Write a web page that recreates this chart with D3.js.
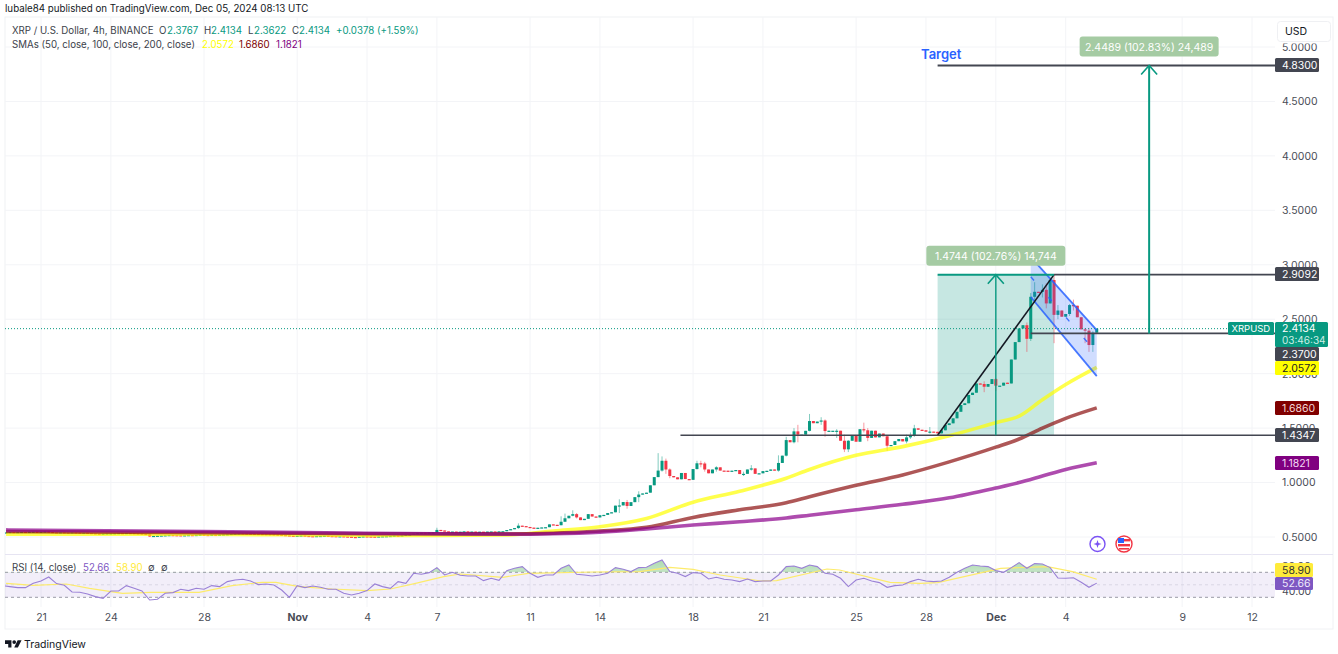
<!DOCTYPE html>
<meta charset="utf-8">
<style>
  body { margin: 0; background: #fff; }
  text { font-family: Inter, "Noto Sans", sans-serif; }
</style>

<!-- Load d3.js -->
<script src="https://d3js.org/d3.v7.min.js"></script>

<div id="my_dataviz"></div>

<script>

// 4h closes, one row per day, first candle is Oct 19 12:00 UTC
var closes = [
  .542,.544,.543,
  .544,.546,.545,.547,.548,.546,
  .547,.550,.545,.541,.540,.541,
  .539,.538,.540,.539,.537,.538,
  .536,.533,.530,.528,.530,.532,
  .532,.533,.535,.534,.536,.535,
  .533,.531,.528,.525,.505,.510,
  .512,.514,.516,.518,.517,.516,
  .515,.516,.518,.517,.519,.521,
  .519,.518,.520,.519,.521,.523,
  .525,.528,.530,.532,.531,.530,
  .529,.528,.527,.526,.525,.524,
  .522,.520,.518,.515,.512,.510,
  .512,.514,.510,.508,.507,.509,
  .510,.511,.509,.508,.507,.507,
  .505,.503,.500,.498,.503,.506,
  .505,.504,.502,.505,.507,.508,
  .510,.512,.511,.514,.520,.522,
  .530,.535,.538,.536,.540,.541,
  .565,.560,.552,.549,.550,.548,
  .549,.552,.548,.550,.547,.549,
  .548,.550,.551,.549,.552,.553,
  .564,.572,.582,.604,.600,.592,
  .586,.582,.585,.588,.590,.616,
  .612,.608,.640,.672,.695,.710,
  .680,.655,.667,.710,.688,.680,
  .700,.703,.720,.727,.788,.790,
  .821,.785,.820,.866,.890,.900,
  .907,.975,1.05,1.11,1.20,1.12,
  1.06,1.048,1.03,1.088,1.032,1.025,
  1.124,1.177,1.175,1.12,1.085,1.12,
  1.14,1.11,1.109,1.105,1.109,1.115,
  1.078,1.08,1.12,1.13,1.08,1.085,
  1.105,1.108,1.12,1.11,1.18,1.247,
  1.39,1.37,1.47,1.44,1.44,1.475,
  1.565,1.545,1.56,1.57,1.473,1.476,
  1.476,1.476,1.384,1.305,1.384,1.437,
  1.375,1.49,1.48,1.41,1.476,1.415,
  1.45,1.425,1.338,1.345,1.38,1.40,
  1.378,1.415,1.43,1.498,1.485,1.48,
  1.467,1.468,1.466,1.452,1.48,1.528,
  1.544,1.59,1.65,1.712,1.728,1.804,
  1.825,1.91,1.905,1.88,1.905,1.95,
  1.89,1.89,1.917,1.91,2.13,2.29,
  2.415,2.445,2.32,2.706,2.752,2.75,
  2.77,2.645,2.86,2.54,2.58,2.523,
  2.548,2.63,2.624,2.518,2.407,2.395,
  2.263,2.376,2.4134
];

// the wicks that stand out: time, high, low
var wicks = [
  ["2024-10-25T16",.53,.50],["2024-11-07T00",.585,.545],["2024-11-10T12",.625,.575],
  ["2024-11-12T08",.69,.62],["2024-11-12T12",.715,.64],["2024-11-12T20",.745,.69],
  ["2024-11-13T00",.72,.67],["2024-11-14T20",.846,.72],["2024-11-15T04",.84,.76],
  ["2024-11-15T16",.92,.82],["2024-11-16T12",1.27,1.05],["2024-11-16T16",1.24,1.10],
  ["2024-11-16T20",1.22,1.08],["2024-11-17T00",1.13,1.04],["2024-11-18T04",1.20,1.12],
  ["2024-11-18T08",1.20,1.14],["2024-11-18T12",1.19,1.10],["2024-11-19T00",1.15,1.10],
  ["2024-11-20T04",1.10,1.06],["2024-11-20T12",1.16,1.11],["2024-11-21T16",1.25,1.10],
  ["2024-11-22T00",1.42,1.24],["2024-11-22T08",1.50,1.36],["2024-11-22T12",1.53,1.37],
  ["2024-11-23T00",1.63,1.47],["2024-11-23T12",1.60,1.53],["2024-11-23T16",1.58,1.42],
  ["2024-11-24T04",1.49,1.41],["2024-11-24T12",1.44,1.28],["2024-11-24T16",1.39,1.28],
  ["2024-11-25T08",1.55,1.46],["2024-11-25T12",1.50,1.38],["2024-11-26T08",1.43,1.29],
  ["2024-11-27T04",1.44,1.36],["2024-11-27T08",1.46,1.40],["2024-11-27T12",1.53,1.42],
  ["2024-11-28T04",1.51,1.45],["2024-11-30T12",1.93,1.83],["2024-12-01T00",1.96,1.84],
  ["2024-12-02T08",2.47,2.20],["2024-12-02T12",2.74,2.30],["2024-12-02T16",2.84,2.65],
  ["2024-12-03T00",2.82,2.70],["2024-12-03T04",2.83,2.60],["2024-12-03T12",2.91,2.28],
  ["2024-12-03T16",2.63,2.50],["2024-12-04T04",2.64,2.53],["2024-12-04T08",2.68,2.58],
  ["2024-12-04T20",2.42,2.28],["2024-12-05T00",2.42,2.20],["2024-12-05T04",2.39,2.20]
];

// moving averages, read at these times
var smaTimes = ["2024-10-19T12","2024-10-28","2024-11-04","2024-11-07","2024-11-10","2024-11-12",
  "2024-11-14","2024-11-16","2024-11-18","2024-11-20","2024-11-22","2024-11-23","2024-11-25",
  "2024-11-27","2024-11-29","2024-12-01","2024-12-02","2024-12-03","2024-12-04","2024-12-05T08"];
var sma50 = [.525,.525,.515,.515,.518,.555,.594,.67,.82,.92,1.04,1.12,1.25,1.33,1.43,1.55,1.61,1.76,1.90,2.0572];
var sma100 = [.55,.54,.53,.53,.53,.535,.555,.59,.68,.75,.815,.87,.975,1.07,1.19,1.325,1.40,1.50,1.59,1.686];
var sma200 = [.565,.55,.535,.53,.525,.53,.545,.575,.61,.64,.675,.70,.75,.80,.86,.95,1.0,1.06,1.12,1.1821];

// RSI every 8h from Oct 19 08:00 UTC
var rsi = [
  48.7,47.1,45.5,45.5,52.4,56.1,62.5,51.9,49.2,38.5,38,35.3,31.1,28.4,40.1,40.1,48.7,44.4,40.1,25.7,
  26.8,36.4,37.5,42.8,40.7,44.4,42.8,48.7,47.1,55.1,57.7,58.8,56.1,50.3,51.3,49.7,41.7,30,48.7,45.5,
  48.1,46,42.8,42.8,36.4,33.7,36.4,40.7,51.3,47.1,44.4,55.1,52.4,68.4,66.8,69.5,77.5,65.7,70,65.2,
  64.1,64.1,56.7,60.4,57.2,72.7,76.4,79.1,68.4,62,65.7,65.7,76.4,81.7,66.8,65.7,64.1,65.7,68.4,77.5,
  74.8,71.1,77.5,78,84.4,89.7,71.1,68.4,63.1,69.5,68.4,59.3,62,58.8,57.7,55.1,59.3,55.1,56.1,56.1,
  65.7,79.1,80.1,76.4,81.7,79.1,68.4,66.8,60.4,47.1,57.7,60.4,56.1,53.5,46,48.7,49.7,55.1,58.8,
  56.1,55.1,56.1,62,70,76.4,81.7,80.1,79.1,72.7,70,77.5,85.5,76.4,83.9,83.4,77.5,60.9,60.4,61.3,54,46,52.66
];
var rsiMaTimes = ["2024-10-19T12","2024-10-20T16","2024-10-22T02","2024-10-23T02","2024-10-24T12","2024-10-25T17",
  "2024-10-27T19","2024-10-29T05","2024-10-30T12","2024-10-31T02","2024-11-01T02","2024-11-02T12","2024-11-04",
  "2024-11-05","2024-11-06T02","2024-11-07T07","2024-11-08","2024-11-09T20","2024-11-10T22","2024-11-13T17",
  "2024-11-15T17","2024-11-17","2024-11-18","2024-11-19T04","2024-11-20T22","2024-11-21T14","2024-11-23T18",
  "2024-11-24T07","2024-11-26T11","2024-11-27T18","2024-11-28T12","2024-12-01T05","2024-12-03T05","2024-12-04T07","2024-12-05T08"];
var rsiMa = [52.4,49.2,51.3,44.4,36.4,38,38,48.7,54,54,47.1,43.3,40.7,43.3,52.4,63,67.3,62,68.4,70.5,
  71,78,74.8,65.7,56.1,56.7,75.3,73.7,54,52.4,53.5,76.4,79,71,58.9];

// axis ticks
var priceTicks = [0.5,1,1.5,2,2.5,3,3.5,4,4.5,5];
var rsiTicks = [80,40];
var timeTicks = ["2024-10-21","2024-10-24","2024-10-28","2024-11-01","2024-11-04","2024-11-07","2024-11-11","2024-11-14",
  "2024-11-18","2024-11-21","2024-11-25","2024-11-28","2024-12-01","2024-12-04","2024-12-09","2024-12-12"];
var timeLabels = ["21","24","28","Nov","4","7","11","14","18","21","25","28","Dec","4","9","12"];

// drawing tool values
var levelPrices = [4.83,2.9092,2.37,1.4347];
var levelStarts = ["2024-11-28T12","2024-12-03T12","2024-12-02T12","2024-11-17T11"];
var boxTimes = ["2024-11-28T12","2024-12-03T12"];
var boxPrices = [1.4347,2.9092];
var channelTimes = ["2024-12-02T12","2024-12-05T08"];
var channelUpper = [3.07,2.40];
var channelMiddle = [2.89,2.19];
var channelLower = [2.704,1.978];

var parseTime = function(s) { return new Date(s.length > 10 ? s + ":00:00Z" : s + "T00:00:00Z"); };

var width = 1338, height = 654;

// append the svg object to the body of the page
var svg = d3.select("#my_dataviz")
  .append("svg")
    .attr("width", width)
    .attr("height", height)
    .style("display", "block");

// scales shared by both panes
var x = d3.scaleUtc()
    .domain([parseTime("2024-10-21"), parseTime("2024-12-12")])
    .range([41, 1252]);
var y = d3.scaleLinear().domain([0.5, 5]).range([537, 47]);
var yRsi = d3.scaleLinear().domain([30, 70]).range([597.3, 572.3]);

var gridColor = "#f3f4f7", teal = "#089981", red = "#f23645", dark = "#434651", blue = "#2962ff";

var defs = svg.append("defs");
defs.append("clipPath").attr("id", "mainClip").append("rect")
    .attr("x", 5).attr("y", 17).attr("width", 1270).attr("height", 537);
defs.append("clipPath").attr("id", "rsiClip").append("rect")
    .attr("x", 5).attr("y", 555).attr("width", 1270).attr("height", 52);
defs.append("clipPath").attr("id", "aboveClip").append("rect")
    .attr("x", 5).attr("y", 555).attr("width", 1270).attr("height", yRsi(70) - 555);
var fade = defs.append("linearGradient").attr("id", "obFade")
    .attr("x1", 0).attr("x2", 0).attr("y1", 0).attr("y2", 1);
fade.append("stop").attr("offset", "0%").attr("stop-color", "#4caf50").attr("stop-opacity", .45);
fade.append("stop").attr("offset", "100%").attr("stop-color", "#4caf50").attr("stop-opacity", .04);

// header
svg.append("text").attr("x", 5).attr("y", 12)
    .style("font-size", "9.75px").style("fill", "#131722")
    .text("lubale84 published on TradingView.com, Dec 05, 2024 08:13 UTC");

// frame of the chart
svg.append("rect").attr("x", 5).attr("y", 17).attr("width", 1328).attr("height", 612)
    .attr("fill", "none").attr("stroke", "#f0f1f4");
svg.append("line").attr("x1", 5).attr("x2", 1333).attr("y1", 554.5).attr("y2", 554.5)
    .attr("stroke", "#e6e4f2").attr("stroke-width", 1.2);

// grid
svg.append("g").selectAll("line").data(timeTicks).enter().append("line")
    .attr("x1", function(d) { return x(parseTime(d)); })
    .attr("x2", function(d) { return x(parseTime(d)); })
    .attr("y1", 17).attr("y2", 607)
    .attr("stroke", gridColor);
svg.append("g").selectAll("line").data(priceTicks).enter().append("line")
    .attr("x1", 5).attr("x2", 1275)
    .attr("y1", function(d) { return y(d); })
    .attr("y2", function(d) { return y(d); })
    .attr("stroke", gridColor);

var main = svg.append("g").attr("clip-path", "url(#mainClip)");

// the measured up-move box
main.append("rect")
    .attr("x", x(parseTime(boxTimes[0])))
    .attr("y", y(boxPrices[1]))
    .attr("width", x(parseTime(boxTimes[1])) - x(parseTime(boxTimes[0])))
    .attr("height", y(boxPrices[0]) - y(boxPrices[1]))
    .attr("fill", teal).attr("fill-opacity", .23);

// candles
var candles = closes.map(function(c, i) {
  var t = d3.utcHour.offset(parseTime("2024-10-19T12"), i * 4);
  var o = i ? closes[i - 1] : c;
  return {t: t, o: o, c: c, h: Math.max(o, c), l: Math.min(o, c)};
});
wicks.forEach(function(w) {
  var time = parseTime(w[0]).getTime();
  var candle = candles.find(function(d) { return d.t.getTime() === time; });
  candle.h = Math.max(candle.h, w[1]);
  candle.l = Math.min(candle.l, w[2]);
});
var candleColor = function(d) { return d.c >= d.o ? teal : red; };

main.append("g").selectAll("line").data(candles).enter().append("line")
    .attr("x1", function(d) { return x(d.t); })
    .attr("x2", function(d) { return x(d.t); })
    .attr("y1", function(d) { return y(d.h); })
    .attr("y2", function(d) { return y(d.l); })
    .attr("stroke", candleColor)
    .attr("stroke-opacity", .5);
main.append("g").selectAll("rect").data(candles).enter().append("rect")
    .attr("x", function(d) { return x(d.t) - 1.5; })
    .attr("y", function(d) { return Math.min(y(d.o), y(d.c)); })
    .attr("width", 3)
    .attr("height", function(d) { return Math.max(1.2, Math.abs(y(d.o) - y(d.c))); })
    .attr("fill", candleColor);

// moving averages
var smaLine = d3.line()
    .x(function(d) { return x(d.t); })
    .y(function(d) { return y(d.v); })
    .curve(d3.curveMonotoneX);
[[sma50, "#ffff00"], [sma100, "#8b1010"], [sma200, "#8b008b"]].forEach(function(s) {
  var points = smaTimes.map(function(t, i) { return {t: parseTime(t), v: s[0][i]}; });
  main.append("path").attr("d", smaLine(points))
      .attr("fill", "none").attr("stroke", s[1])
      .attr("stroke-width", 3.6).attr("stroke-opacity", .7);
});

// falling channel
var channelX = channelTimes.map(function(t) { return x(parseTime(t)); });
main.append("polygon")
    .attr("points", [
      [channelX[0], y(channelUpper[0])], [channelX[1], y(channelUpper[1])],
      [channelX[1], y(channelLower[1])], [channelX[0], y(channelLower[0])]
    ].join(" "))
    .attr("fill", blue).attr("fill-opacity", .22);
[channelUpper, channelLower, channelMiddle].forEach(function(c, i) {
  main.append("line")
      .attr("x1", channelX[0]).attr("x2", channelX[1])
      .attr("y1", y(c[0])).attr("y2", y(c[1]))
      .attr("stroke", blue).attr("stroke-width", i == 2 ? 1.4 : 1.8)
      .attr("stroke-opacity", .85)
      .attr("stroke-dasharray", i == 2 ? "5 22" : null);
});

// trend line of the up-move
main.append("line")
    .attr("x1", x(parseTime(boxTimes[0]))).attr("x2", x(parseTime(boxTimes[1])))
    .attr("y1", y(boxPrices[0])).attr("y2", y(boxPrices[1]))
    .attr("stroke", "#131722").attr("stroke-width", 1.5);

// horizontal levels
levelPrices.forEach(function(p, i) {
  main.append("line")
      .attr("x1", x(parseTime(levelStarts[i]))).attr("x2", 1275)
      .attr("y1", y(p)).attr("y2", y(p))
      .attr("stroke", dark).attr("stroke-width", i == 3 ? 1.4 : 1.8);
});
main.append("line")
    .attr("x1", x(parseTime(boxTimes[0]))).attr("x2", x(parseTime(boxTimes[1])))
    .attr("y1", y(boxPrices[1])).attr("y2", y(boxPrices[1]))
    .attr("stroke", teal).attr("stroke-width", 2);

// last price dotted line
svg.append("line").attr("x1", 5).attr("x2", 1228)
    .attr("y1", y(2.4134)).attr("y2", y(2.4134))
    .attr("stroke", teal).attr("stroke-dasharray", "1 2");

// arrows with their labels
function arrow(arrowX, from, to, width, label) {
  var top = y(to);
  main.append("line").attr("x1", arrowX).attr("x2", arrowX)
      .attr("y1", y(from)).attr("y2", top)
      .attr("stroke", teal).attr("stroke-width", width);
  main.append("path")
      .attr("d", "M" + (arrowX - 8) + "," + (top + 9) + "L" + arrowX + "," + top + "L" + (arrowX + 8) + "," + (top + 9))
      .attr("fill", "none").attr("stroke", teal).attr("stroke-width", 1.6);
  main.append("rect")
      .attr("x", arrowX - 69.5).attr("y", top - 29)
      .attr("width", 139).attr("height", 20).attr("rx", 3)
      .attr("fill", "#a5cba3");
  main.append("text")
      .attr("x", arrowX).attr("y", top - 15)
      .attr("text-anchor", "middle")
      .style("font-size", "10.5px").style("fill", "#fff")
      .text(label);
}
arrow(x(parseTime("2024-12-01T00")), 1.4347, 2.9092, 1.4, "1.4744 (102.76%) 14,744");
arrow(x(parseTime("2024-12-07T14")), 2.37, 4.83, 2, "2.4489 (102.83%) 24,489");

main.append("text").attr("x", 921).attr("y", 59)
    .style("font-size", "13px").style("font-weight", 600).style("fill", blue)
    .text("Target");

// the two event marks under the last candle
var mark = svg.append("g").attr("transform", "translate(1097.5,544)");
mark.append("circle").attr("r", 7.5).attr("fill", "#fff").attr("stroke", "#7a52f4").attr("stroke-width", 1.4);
mark.append("path").attr("d", "M0,-4L1,-1L4,0L1,1L0,4L-1,1L-4,0L-1,-1Z").attr("fill", "#7a52f4");
var flag = svg.append("g").attr("transform", "translate(1124,544)");
flag.append("circle").attr("r", 8).attr("fill", "#fff").attr("stroke", "#f23645").attr("stroke-width", 1.4);
flag.append("rect").attr("x", -6).attr("y", -5).attr("width", 12).attr("height", 2.4).attr("fill", "#f23645");
flag.append("rect").attr("x", -6).attr("y", 0).attr("width", 12).attr("height", 2.4).attr("fill", "#f23645");
flag.append("rect").attr("x", -5).attr("y", 4).attr("width", 10).attr("height", 1.6).attr("fill", "#f23645");
flag.append("rect").attr("x", -6).attr("y", -6).attr("width", 6).attr("height", 5).attr("fill", "#2962ff");

// RSI pane
var rsiPane = svg.append("g").attr("clip-path", "url(#rsiClip)");
rsiPane.append("rect")
    .attr("x", 5).attr("width", 1270)
    .attr("y", yRsi(70)).attr("height", yRsi(30) - yRsi(70))
    .attr("fill", "#7e57c2").attr("fill-opacity", .1);
[70, 50, 30].forEach(function(v) {
  rsiPane.append("line").attr("x1", 5).attr("x2", 1275)
      .attr("y1", yRsi(v)).attr("y2", yRsi(v))
      .attr("stroke", v == 50 ? "#d9d6e4" : "#9a9aa5")
      .attr("stroke-dasharray", "3 3");
});

var rsiPoints = rsi.map(function(v, i) {
  return {t: d3.utcHour.offset(parseTime("2024-10-19T08"), i * 8), v: v};
});
var rsiArea = d3.area()
    .x(function(d) { return x(d.t); })
    .y0(yRsi(70))
    .y1(function(d) { return yRsi(d.v); });
rsiPane.append("g").attr("clip-path", "url(#aboveClip)")
  .append("path").attr("d", rsiArea(rsiPoints)).attr("fill", "url(#obFade)");

var rsiLine = d3.line()
    .x(function(d) { return x(d.t); })
    .y(function(d) { return yRsi(d.v); });
rsiPane.append("path")
    .attr("d", rsiLine(rsiMaTimes.map(function(t, i) { return {t: parseTime(t), v: rsiMa[i]}; })))
    .attr("fill", "none").attr("stroke", "#fdeb6b").attr("stroke-width", 1.2);
rsiPane.append("path")
    .attr("d", rsiLine(rsiPoints))
    .attr("fill", "none").attr("stroke", "#9a80d6").attr("stroke-width", 1.1);

// axes
var tickColor = "#4a4d57";
var priceAxis = svg.append("g").attr("transform", "translate(1282,0)")
    .call(d3.axisRight(y).tickValues(priceTicks).tickSize(0).tickPadding(0)
      .tickFormat(function(d) { return d.toFixed(4); }));
priceAxis.select(".domain").remove();
var rsiAxis = svg.append("g").attr("transform", "translate(1282,0)")
    .call(d3.axisRight(yRsi).tickValues(rsiTicks).tickSize(0).tickPadding(0)
      .tickFormat(function(d) { return d.toFixed(2); }));
rsiAxis.select(".domain").remove();
var timeAxis = svg.append("g").attr("transform", "translate(0,607)")
    .call(d3.axisBottom(x).tickValues(timeTicks.map(parseTime)).tickSize(0).tickPadding(7)
      .tickFormat(function(d, i) { return timeLabels[i]; }));
timeAxis.select(".domain").remove();
timeAxis.selectAll("text").style("font-weight", function(d, i) { return isNaN(+timeLabels[i]) ? 700 : 400; });
[priceAxis, rsiAxis, timeAxis].forEach(function(a) {
  a.selectAll("text").style("font-family", "Inter").style("font-size", "10.5px").style("fill", tickColor);
});

// price tags on the axis
function tag(top, h, w, fill, color, label) {
  svg.append("rect").attr("x", 1275).attr("y", top).attr("width", w).attr("height", h).attr("rx", 1.5).attr("fill", fill);
  svg.append("text").attr("x", 1282).attr("y", top + h / 2 + 3.8)
      .style("font-size", "10.5px").style("fill", color).text(label);
}
tag(58, 14, 44, dark, "#fff", "4.8300");
tag(267, 14, 44, dark, "#fff", "2.9092");
tag(347, 14, 44, dark, "#fff", "2.3700");
tag(361, 14, 44, "#ffff00", "#222", "2.0572");
tag(401, 14, 44, "#800000", "#f4d8d8", "1.6860");
tag(428, 14, 44, dark, "#fff", "1.4347");
tag(456, 14, 44, "#800080", "#f4d8f4", "1.1821");
tag(563, 14, 38, "#ffeb3b", "#333", "58.90");
tag(577, 13, 38, "#7e57c2", "#efeafc", "52.66");

svg.append("rect").attr("x", 1228).attr("y", 322).attr("width", 46).attr("height", 13).attr("rx", 1.5).attr("fill", teal);
svg.append("text").attr("x", 1231.5).attr("y", 332).style("font-size", "9.5px").style("fill", "#fff").text("XRPUSD");
svg.append("rect").attr("x", 1275).attr("y", 322).attr("width", 53).attr("height", 25).attr("rx", 1.5).attr("fill", teal);
svg.append("text").attr("x", 1282).attr("y", 332).style("font-size", "10.5px").style("fill", "#fff").text("2.4134");
svg.append("text").attr("x", 1282).attr("y", 344).style("font-size", "10px").style("fill", "#cdeee6").text("03:46:34");

// currency button, it hides the top of the 5.0000 tick
svg.append("rect").attr("x", 1276).attr("y", 20).attr("width", 56).attr("height", 23.5).attr("fill", "#fff");
svg.append("rect").attr("x", 1277.5).attr("y", 21.5).attr("width", 53).attr("height", 20).attr("rx", 3)
    .attr("fill", "#fff").attr("stroke", "#eff0f3");
svg.append("text").attr("x", 1285).attr("y", 35).style("font-size", "10.5px").style("fill", "#131722").text("USD");

// legend rows
function legend(yPos, items) {
  items.forEach(function(it) {
    svg.append("text").attr("x", it[0]).attr("y", yPos)
        .style("font-size", "9.7px").style("fill", it[1]).text(it[2]);
  });
}
var legendText = "#3c3f4a";
legend(34, [[12, legendText, "XRP / U.S. Dollar, 4h, BINANCE"],
  [159, legendText, "O"], [167, teal, "2.3767"], [204, legendText, "H"], [211, teal, "2.4134"],
  [248, legendText, "L"], [254, teal, "2.3622"], [292, legendText, "C"], [299, teal, "2.4134"],
  [336, teal, "+0.0378 (+1.59%)"]]);
legend(48, [[12, legendText, "SMAs (50, close, 100, close, 200, close)"],
  [202, "#ffff00", "2.0572"], [239, "#800000", "1.6860"], [276, "#800080", "1.1821"]]);
legend(571, [[12, legendText, "RSI (14, close)"], [83, "#7e57c2", "52.66"], [116, "#ffeb3b", "58.90"],
  [148, legendText, "∅"], [161, legendText, "∅"]]);

// logo and name at the bottom
svg.append("path")
    .attr("d", "M14 6H0v8h7v8h7V6Zm14 16h-8l7.5-16H36l-8 16Zm-8-8a4 4 0 1 0 0-8 4 4 0 0 0 0 8Z")
    .attr("transform", "translate(5,637.5) scale(.46)")
    .attr("fill", "#131722");
svg.append("text").attr("x", 24).attr("y", 648).style("font-size", "10.5px").style("fill", "#131722").text("TradingView");

</script>
